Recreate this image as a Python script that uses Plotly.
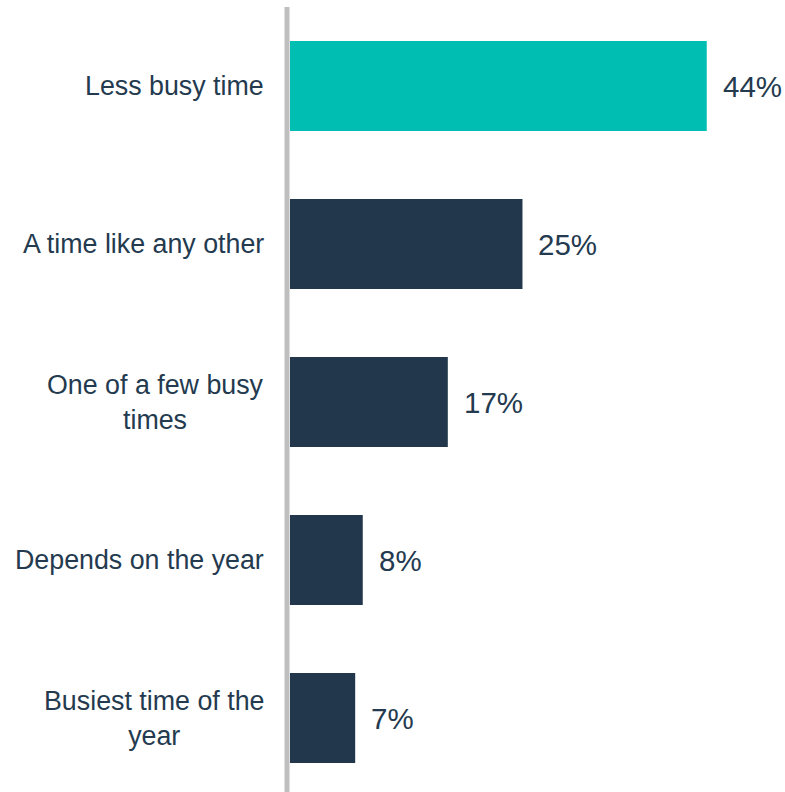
import plotly.graph_objects as go

categories = ["Less busy time", "A time like any other", "One of a few busy<br>times",
              "Depends on the year", "Busiest time of the<br>year"]
values = [44.1, 24.6, 16.7, 7.7, 6.9]
labels = ["44%", "25%", "17%", "8%", "7%"]
colors = ["#00BFB2", "#22374C", "#22374C", "#22374C", "#22374C"]

text_color = "#243A4F"
FONT = "Liberation Sans"

fig = go.Figure(go.Bar(
    x=values, y=list(range(len(categories))), orientation="h",
    marker=dict(color=colors, line=dict(width=0)),
    hoverinfo="skip",
))

annotations = []
for i, (c, v, l) in enumerate(zip(categories, values, labels)):
    annotations.append(dict(
        x=0, xref="paper", y=i, yref="y", text=c, showarrow=False,
        xanchor="right", yanchor="middle", align="center", xshift=-22,
        font=dict(family=FONT, size=26.8, color=text_color),
    ))
    annotations.append(dict(
        x=v, xref="x", y=i, yref="y", text=l, showarrow=False,
        xanchor="left", yanchor="middle", xshift=14,
        font=dict(family=FONT, size=29.5, color=text_color),
    ))

fig.update_layout(
    width=785, height=792,
    margin=dict(l=288, r=0, t=7, b=0),
    paper_bgcolor="white", plot_bgcolor="white",
    bargap=0.43,
    showlegend=False,
    xaxis=dict(range=[-0.21, 52.38], visible=False, fixedrange=True),
    yaxis=dict(range=[4.468, -0.5], showticklabels=False, showgrid=False,
               zeroline=False, showline=False, ticks=""),
    annotations=annotations,
    shapes=[dict(type="line", xref="paper", yref="paper", x0=-0.002, x1=-0.002,
                 y0=0, y1=1, line=dict(color="#BFBFBF", width=5))],
)

fig.write_html("out.html")
